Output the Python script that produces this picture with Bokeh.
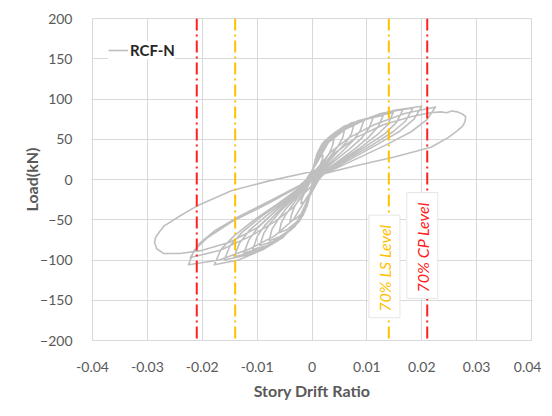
import math
from bokeh.plotting import figure
from bokeh.models import (Span, Label, FixedTicker, CustomJSTickFormatter,
                          Legend, LegendItem)
from bokeh.embed import file_html
from bokeh.resources import INLINE

# ---------------- data ----------------
x_ticks = [-0.04, -0.03, -0.02, -0.01, 0, 0.01, 0.02, 0.03, 0.04]
y_ticks = [-200, -150, -100, -50, 0, 50, 100, 150, 200]

cp_level = [-0.021, 0.021]   # 70% CP level drift
ls_level = [-0.014, 0.014]   # 70% LS level drift

series_name = "RCF-N"

# hysteresis record, cycle by cycle: (story drift ratio, load kN)
cycle_01 = [(0.0, 0), (0.0001, 8), (0.0003, 15), (0.0006, 20), (0.001, 25), (0.0015, 28), (0.002, 30),
            (0.0019, 25), (0.0016, 20), (0.0012, 14), (0.0007, 8), (0.0002, 2),
            (-0.0001, -8), (-0.0003, -15), (-0.0006, -20), (-0.001, -25), (-0.0015, -28), (-0.002, -30),
            (-0.0019, -25), (-0.0016, -20), (-0.0012, -14), (-0.0007, -8), (-0.0002, -2)]
cycle_02 = [(0.0002, 12), (0.0006, 25), (0.0012, 34), (0.002, 41), (0.003, 47), (0.004, 50),
            (0.0037, 41), (0.0032, 33), (0.0024, 24), (0.0014, 14), (0.0004, 4),
            (-0.0002, -13), (-0.0006, -26), (-0.0012, -35), (-0.002, -43), (-0.003, -49), (-0.004, -52),
            (-0.0037, -43), (-0.0032, -34), (-0.0024, -25), (-0.0014, -15), (-0.0004, -4)]
cycle_03 = [(0.0003, 16), (0.0009, 32), (0.0018, 44), (0.003, 52), (0.0045, 60), (0.006, 64),
            (0.0056, 52), (0.0048, 42), (0.0036, 31), (0.0021, 18), (0.0006, 5),
            (-0.0003, -17), (-0.0009, -33), (-0.0018, -45), (-0.003, -54), (-0.0045, -62), (-0.006, -66),
            (-0.0056, -54), (-0.0048, -44), (-0.0036, -32), (-0.0021, -18), (-0.0006, -5)]
cycle_04 = [(0.0004, 18), (0.0012, 35), (0.0023, 48), (0.0039, 57), (0.0058, 66), (0.0077, 70),
            (0.0072, 57), (0.0062, 46), (0.0046, 34), (0.0027, 20), (0.0008, 6),
            (-0.0004, -19), (-0.0012, -38), (-0.0023, -52), (-0.0039, -62), (-0.0059, -71), (-0.0078, -76),
            (-0.0073, -62), (-0.0062, -50), (-0.0047, -36), (-0.0027, -21), (-0.0008, -6)]
cycle_05 = [(0.0005, 19), (0.0014, 37), (0.0029, 50), (0.0048, 61), (0.0071, 70), (0.0095, 74),
            (0.0088, 61), (0.0076, 49), (0.0057, 36), (0.0033, 21), (0.001, 6),
            (-0.0005, -21), (-0.0014, -41), (-0.0029, -56), (-0.0048, -67), (-0.0071, -77), (-0.0095, -82),
            (-0.0088, -67), (-0.0076, -54), (-0.0057, -39), (-0.0033, -23), (-0.001, -7)]
cycle_06 = [(0.0006, 20), (0.0017, 39), (0.0034, 53), (0.0056, 64), (0.0084, 73), (0.0112, 78),
            (0.0104, 64), (0.009, 51), (0.0067, 37), (0.0039, 22), (0.0011, 6),
            (-0.0005, -22), (-0.0016, -44), (-0.0032, -59), (-0.0054, -71), (-0.0081, -82), (-0.0108, -87),
            (-0.01, -71), (-0.0086, -57), (-0.0065, -42), (-0.0038, -24), (-0.0011, -7)]
cycle_07 = [(0.0007, 20), (0.002, 40), (0.0039, 54), (0.0065, 66), (0.0098, 75), (0.013, 80),
            (0.0121, 66), (0.0104, 53), (0.0078, 38), (0.0046, 22), (0.0013, 6),
            (-0.0006, -23), (-0.0019, -46), (-0.0037, -62), (-0.0062, -75), (-0.0093, -86), (-0.0124, -91),
            (-0.0115, -75), (-0.0099, -60), (-0.0074, -44), (-0.0043, -25), (-0.0012, -7)]
cycle_08 = [(0.0007, 21), (0.0022, 42), (0.0044, 56), (0.0074, 68), (0.0111, 78), (0.0148, 83),
            (0.0138, 68), (0.0118, 55), (0.0089, 40), (0.0052, 23), (0.0015, 7),
            (-0.0007, -24), (-0.0021, -48), (-0.0043, -65), (-0.0071, -79), (-0.0107, -90), (-0.0142, -96),
            (-0.0132, -79), (-0.0114, -63), (-0.0085, -46), (-0.005, -27), (-0.0014, -8)]
cycle_09 = [(0.0008, 22), (0.0025, 44), (0.005, 59), (0.0083, 71), (0.0125, 82), (0.0166, 87),
            (0.0154, 71), (0.0133, 57), (0.01, 42), (0.0058, 24), (0.0017, 7),
            (-0.0008, -25), (-0.0024, -50), (-0.0048, -68), (-0.008, -82), (-0.012, -94), (-0.016, -100),
            (-0.0149, -82), (-0.0128, -66), (-0.0096, -48), (-0.0056, -28), (-0.0016, -8)]
cycle_10 = [(0.0009, 22), (0.0028, 45), (0.0055, 61), (0.0092, 73), (0.0138, 84), (0.0184, 89),
            (0.0171, 73), (0.0147, 59), (0.011, 43), (0.0064, 25), (0.0018, 7),
            (-0.0009, -27), (-0.0027, -53), (-0.0053, -72), (-0.0089, -87), (-0.0134, -100), (-0.0178, -106),
            (-0.0166, -87), (-0.0142, -70), (-0.0107, -51), (-0.0062, -30), (-0.0018, -8)]
cycle_11 = [(0.001, 22), (0.003, 46), (0.006, 62), (0.01, 75), (0.015, 86), (0.02, 91),
            (0.0186, 75), (0.016, 60), (0.012, 44), (0.007, 25), (0.002, 7),
            (-0.0011, -24), (-0.0034, -50), (-0.0068, -70), (-0.0113, -86), (-0.0169, -100), (-0.0225, -106),
            (-0.0215, -88), (-0.019, -72), (-0.0145, -52), (-0.008, -30), (-0.0022, -8)]
cycle_12 = [(0.0011, 15), (0.0034, 34), (0.0068, 52), (0.0113, 68), (0.0169, 82), (0.0225, 90),
            (0.0209, 74), (0.018, 59), (0.0135, 43), (0.0079, 25), (0.0022, 7),
            (-0.0011, -15), (-0.0033, -34), (-0.0067, -52), (-0.0111, -70), (-0.0167, -88), (-0.0222, -97),
            (-0.0206, -80), (-0.0178, -64), (-0.0133, -46), (-0.0078, -27), (-0.0022, -7)]
cycle_13 = [(0.0012, 12), (0.004, 32), (0.008, 52), (0.013, 68), (0.018, 78), (0.0215, 83),
            (0.0235, 84), (0.0245, 83), (0.0255, 85), (0.0265, 84), (0.0275, 81), (0.028, 78),
            (0.0279, 72), (0.0274, 66), (0.0264, 60), (0.0248, 52), (0.0217, 40), (0.015, 28),
            (0.008, 17), (0.002, 7), (0.0, 4),
            (-0.002, -10), (-0.006, -35), (-0.01, -60), (-0.015, -78), (-0.02, -88), (-0.024, -92),
            (-0.027, -92), (-0.0283, -86), (-0.0287, -78), (-0.0285, -72),
            (-0.0278, -65), (-0.027, -58), (-0.024, -45), (-0.021, -33), (-0.0147, -14),
            (-0.008, -2), (0.0, 10), (0.002, 13)]

cycles = [cycle_01, cycle_02, cycle_03, cycle_04, cycle_05, cycle_06, cycle_07,
          cycle_08, cycle_09, cycle_10, cycle_11, cycle_12, cycle_13]
drift = [pt[0] for c in cycles for pt in c]
load = [pt[1] for c in cycles for pt in c]

# ---------------- figure ----------------
FONT = "Lato"
GRAY_TXT = "#595959"
GRID = "#D9D9D9"

p = figure(frame_width=439, frame_height=322, x_range=(-0.04, 0.04), y_range=(-200, 200),
           output_backend="svg", toolbar_location=None,
           min_border_left=92, min_border_right=10, min_border_top=18, min_border_bottom=56)
p.background_fill_color = "white"
p.border_fill_color = "white"
p.outline_line_color = GRID

p.xaxis.ticker = FixedTicker(ticks=x_ticks)
p.yaxis.ticker = FixedTicker(ticks=y_ticks)
p.xgrid.ticker = FixedTicker(ticks=x_ticks)
p.ygrid.ticker = FixedTicker(ticks=y_ticks)
p.xaxis.formatter = CustomJSTickFormatter(
    code="return Math.abs(tick) < 1e-9 ? '0' : tick.toFixed(2);")
for g in (p.xgrid, p.ygrid):
    g.grid_line_color = GRID
    g.grid_line_width = 1

for ax in (p.xaxis, p.yaxis):
    ax.axis_line_color = None
    ax.major_tick_line_color = None
    ax.minor_tick_line_color = None
    ax.major_label_text_color = GRAY_TXT
    ax.major_label_text_font = FONT
    ax.major_label_text_font_size = "14px"
    ax.axis_label_text_color = GRAY_TXT
    ax.axis_label_text_font = FONT
    ax.axis_label_text_font_style = "bold"
    ax.axis_label_text_font_size = "16px"

p.xaxis.axis_label = "Story Drift Ratio"
p.yaxis.axis_label = "Load(kN)"
p.xaxis.major_label_standoff = 15
p.yaxis.major_label_standoff = 14
p.xaxis.axis_label_standoff = 6
p.yaxis.axis_label_standoff = -4

r = p.line(drift, load, line_color="#BFBFBF", line_width=1.6, line_join="round")

for xv in cp_level:
    p.add_layout(Span(location=xv, dimension="height", line_color="#FF2020",
                      line_width=2, line_dash="12 4 2 4"))
for xv in ls_level:
    p.add_layout(Span(location=xv, dimension="height", line_color="#FFC000",
                      line_width=2, line_dash="12 4 2 4"))

p.add_layout(Label(x=0.0132, y=-108, text="70%  LS Level", angle=math.pi / 2,
                   text_align="center", text_baseline="middle",
                   text_font=FONT, text_font_style="italic", text_font_size="16px",
                   text_color="#FFC000", background_fill_color="white",
                   border_line_color="#E6E6E6", padding=6))
p.add_layout(Label(x=0.0201, y=-82, text="70%  CP Level", angle=math.pi / 2,
                   text_align="center", text_baseline="middle",
                   text_font=FONT, text_font_style="italic", text_font_size="16px",
                   text_color="#FF2020", background_fill_color="white",
                   border_line_color="#E6E6E6", padding=6))

legend = Legend(items=[LegendItem(label=series_name, renderers=[r])],
                location=(16, 281), margin=0, padding=6, spacing=0,
                glyph_width=20, glyph_height=16, label_standoff=2,
                label_text_font=FONT, label_text_font_style="bold",
                label_text_font_size="15px", label_text_color="#262626",
                border_line_color=None, background_fill_color="white",
                background_fill_alpha=1.0)
p.add_layout(legend)

open("out.html", "w").write(file_html(p, INLINE))
